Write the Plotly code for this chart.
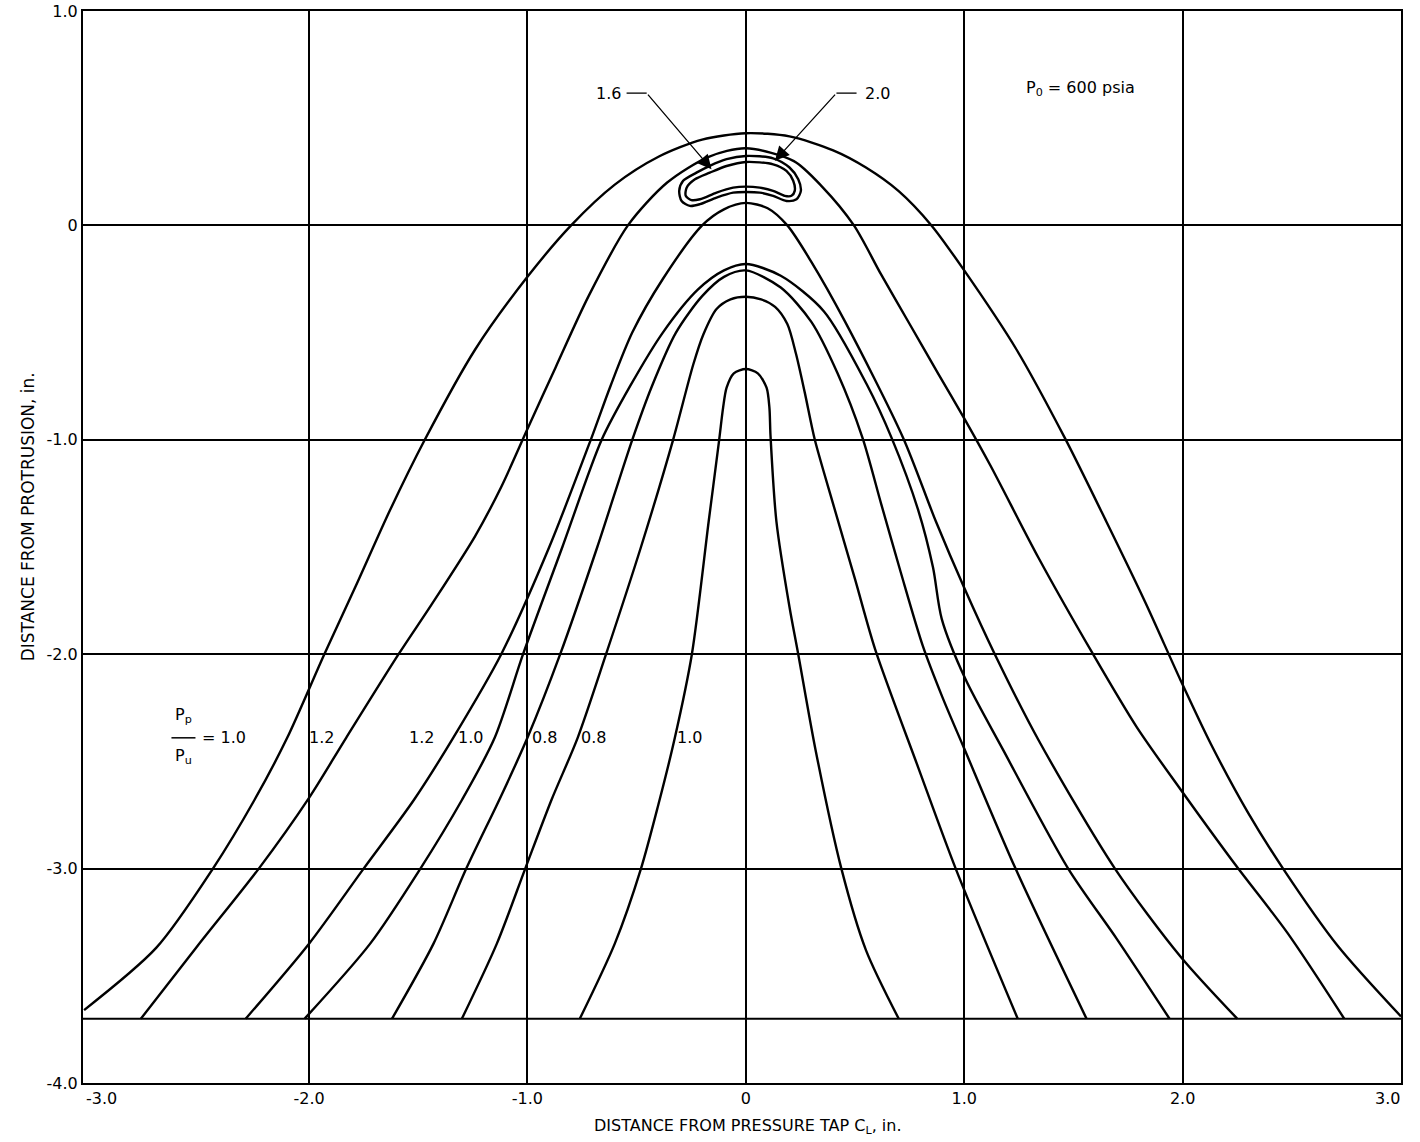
import plotly.graph_objects as go

# ---------------- data ----------------
# contour lines of Pp/Pu, x = distance from pressure tap centreline (in.), y = distance from protrusion (in.)
c1_x = [-3.03, -2.70, -2.44, -2.25, -2.10, -1.93, -1.785, -1.63, -1.47, -1.24, -1.00, -0.80, -0.60, -0.40, -0.20, 0.00,
        0.20, 0.40, 0.55, 0.70, 0.85, 1.00, 1.24, 1.46, 1.65, 1.83, 1.99, 2.13, 2.30, 2.46, 2.71, 3.00]
c1_y = [-3.66, -3.37, -3.00, -2.68, -2.39, -2.00, -1.68, -1.33, -1.00, -0.58, -0.24, 0.00, 0.19, 0.32, 0.40, 0.43,
        0.415, 0.35, 0.27, 0.16, 0.00, -0.21, -0.58, -0.99, -1.38, -1.76, -2.12, -2.42, -2.74, -3.00, -3.36, -3.69]

c2_x = [-2.77, -2.51, -2.23, -2.00, -1.83, -1.59, -1.44, -1.24, -1.12, -1.00, -0.87, -0.72, -0.54, -0.36, -0.17, 0.00,
        0.22, 0.35, 0.495, 0.62, 0.75, 0.88, 1.00, 1.12, 1.34, 1.59, 1.79, 1.99, 2.24, 2.48, 2.74]
c2_y = [-3.70, -3.36, -3.00, -2.67, -2.39, -2.00, -1.77, -1.45, -1.22, -0.95, -0.66, -0.33, 0.00, 0.20, 0.32, 0.36,
        0.30, 0.18, 0.00, -0.23, -0.46, -0.69, -0.90, -1.12, -1.55, -2.00, -2.34, -2.63, -2.98, -3.30, -3.70]

c3_x = [-2.29, -2.00, -1.75, -1.52, -1.34, -1.12, -0.90, -0.71, -0.62, -0.52, -0.38, -0.20, -0.10, 0.00,
        0.10, 0.19, 0.30, 0.455, 0.72, 0.87, 1.00, 1.14, 1.34, 1.69, 1.99, 2.25]
c3_y = [-3.70, -3.35, -3.00, -2.68, -2.39, -2.00, -1.50, -1.00, -0.75, -0.50, -0.25, 0.00, 0.075, 0.105,
        0.08, 0.00, -0.17, -0.45, -0.99, -1.38, -1.69, -2.00, -2.40, -3.00, -3.41, -3.70]

c4_x = [-2.02, -1.72, -1.49, -1.30, -1.15, -1.02, -0.84, -0.66, -0.53, -0.38, -0.22, -0.10, 0.00,
        0.16, 0.357, 0.553, 0.667, 0.79, 0.857, 0.897, 1.005, 1.18, 1.476, 1.70, 1.94]
c4_y = [-3.70, -3.35, -3.00, -2.68, -2.39, -2.00, -1.50, -1.00, -0.75, -0.50, -0.30, -0.21, -0.18,
        -0.235, -0.40, -0.74, -0.99, -1.33, -1.595, -1.835, -2.115, -2.45, -3.00, -3.33, -3.70]

c5_x = [-1.62, -1.43, -1.28, -1.12, -1.00, -0.85, -0.68, -0.52, -0.43, -0.32, -0.20, -0.10, 0.00,
        0.16, 0.30, 0.42, 0.534, 0.62, 0.71, 0.81, 0.90, 1.00, 1.235, 1.56]
c5_y = [-3.70, -3.35, -3.00, -2.66, -2.39, -2.00, -1.50, -1.00, -0.75, -0.50, -0.33, -0.24, -0.21,
        -0.29, -0.45, -0.69, -0.99, -1.30, -1.62, -1.96, -2.20, -2.44, -3.00, -3.70]

c6_x = [-1.30, -1.14, -1.01, -0.89, -0.77, -0.64, -0.48, -0.333, -0.241, -0.195, -0.134, -0.07, 0.00,
        0.07, 0.134, 0.19, 0.23, 0.27, 0.316, 0.40, 0.50, 0.593, 0.79, 0.961, 1.245]
c6_y = [-3.70, -3.35, -3.00, -2.68, -2.39, -2.00, -1.50, -1.00, -0.65, -0.51, -0.39, -0.345, -0.333,
        -0.345, -0.38, -0.46, -0.60, -0.78, -1.00, -1.30, -1.65, -1.98, -2.53, -3.00, -3.70]

c7_x = [-0.76, -0.60, -0.48, -0.40, -0.325, -0.247, -0.17, -0.122, -0.104, -0.088, -0.055, 0.00,
        0.055, 0.095, 0.108, 0.113, 0.14, 0.20, 0.24, 0.32, 0.4375, 0.55, 0.70]
c7_y = [-3.70, -3.35, -3.00, -2.70, -2.39, -2.00, -1.38, -1.00, -0.85, -0.757, -0.69, -0.67,
        -0.69, -0.757, -0.85, -0.98, -1.38, -1.78, -2.00, -2.45, -3.00, -3.38, -3.70]

# closed contours near the protrusion (1.6 and 2.0)
loop16_x = [0.00, 0.125, 0.20, 0.24, 0.252, 0.232, 0.186, 0.125, 0.064, 0.00, -0.058, -0.134, -0.21, -0.256,
            -0.294, -0.305, -0.287, -0.226, -0.165, -0.088, 0.00]
loop16_y = [0.324, 0.313, 0.27, 0.215, 0.161, 0.122, 0.114, 0.138, 0.153, 0.156, 0.153, 0.13, 0.099, 0.091,
            0.114, 0.161, 0.208, 0.246, 0.278, 0.309, 0.324]
loop20_x = [0.00, 0.125, 0.186, 0.217, 0.224, 0.209, 0.178, 0.125, 0.064, 0.00, -0.058, -0.134, -0.21, -0.249,
            -0.275, -0.271, -0.233, -0.165, -0.088, 0.00]
loop20_y = [0.296, 0.285, 0.254, 0.208, 0.161, 0.138, 0.138, 0.161, 0.176, 0.181, 0.176, 0.153, 0.122, 0.118,
            0.138, 0.176, 0.215, 0.246, 0.277, 0.296]

curve_x = [c1_x, c2_x, c3_x, c4_x, c5_x, c6_x, c7_x, loop16_x, loop20_x]
curve_y = [c1_y, c2_y, c3_y, c4_y, c5_y, c6_y, c7_y, loop16_y, loop20_y]

baseline_y = -3.7

# contour value labels along y = -2.39
label_texts = ["1.2", "1.2", "1.0", "0.8", "0.8", "1.0"]
label_x = [-1.945, -1.483, -1.259, -0.924, -0.696, -0.256]
label_y = -2.39

# arrow callouts
callout_text = ["1.6", "2.0"]
callout_tx = [-0.627, 0.604]
callout_ty = 0.617
callout_lx0 = [-0.546, 0.507]
callout_bx = [-0.454, 0.415]
callout_tipx = [-0.157, 0.133]
callout_tipy = [0.262, 0.301]

x_tickvals = [-2, -1, 0, 1, 2]
x_ticktext = ["-2.0", "-1.0", "0", "1.0", "2.0"]
x_edge_text = ["-3.0", "3.0"]
y_tickvals = [1, 0, -1, -2, -3, -4]
y_ticktext = ["1.0", "0", "-1.0", "-2.0", "-3.0", "-4.0"]
x_range = [-3.035, 3.0]
y_range = [-4.0, 1.0]

FONT = "DejaVu Sans"
TXT = dict(family=FONT, size=16, color="black")

fig = go.Figure()
for xs, ys in zip(curve_x, curve_y):
    fig.add_trace(go.Scatter(x=xs, y=ys, mode="lines",
                             line=dict(color="black", width=2.4, shape="spline", smoothing=0.8),
                             hoverinfo="skip", showlegend=False))

# leader horizontal segments
for lx0, bx in zip(callout_lx0, callout_bx):
    fig.add_trace(go.Scatter(x=[lx0, bx], y=[callout_ty, callout_ty], mode="lines",
                             line=dict(color="black", width=1.3), hoverinfo="skip", showlegend=False))

annotations = []
for t, tx, bx, tipx, tipy in zip(callout_text, callout_tx, callout_bx, callout_tipx, callout_tipy):
    annotations.append(dict(x=tx, y=callout_ty, xref="x", yref="y", text=t, showarrow=False,
                            xanchor="center", yanchor="middle", font=TXT))
    annotations.append(dict(x=tipx, y=tipy, xref="x", yref="y", ax=bx, ay=callout_ty, axref="x", ayref="y",
                            text="", showarrow=True, arrowhead=2, arrowsize=2.2, arrowwidth=1.3,
                            arrowcolor="black", standoff=0, startstandoff=0))

for t, lx in zip(label_texts, label_x):
    annotations.append(dict(x=lx, y=label_y, xref="x", yref="y", text=t, showarrow=False,
                            xanchor="center", yanchor="middle", font=TXT))

# Pp/Pu = 1.0 fraction label
annotations.append(dict(x=-2.575, y=-2.285, xref="x", yref="y", text="P<sub>p</sub>", showarrow=False,
                        xanchor="center", yanchor="middle", font=TXT))
annotations.append(dict(x=-2.575, y=-2.475, xref="x", yref="y", text="P<sub>u</sub>", showarrow=False,
                        xanchor="center", yanchor="middle", font=TXT))
annotations.append(dict(x=-2.50, y=label_y, xref="x", yref="y", text="= 1.0", showarrow=False, xanchor="left",
                        yanchor="middle", font=TXT))

# P0 note
annotations.append(dict(x=1.275, y=0.637, xref="x", yref="y", text="P<sub>0</sub> = 600 psia", showarrow=False,
                        xanchor="left", yanchor="middle", font=TXT))

# edge tick labels of x axis, set inside the frame
annotations.append(dict(x=x_range[0], y=0, xref="x", yref="paper", text=x_edge_text[0], showarrow=False,
                        xanchor="left", yanchor="top", xshift=1, yshift=-4, font=TXT))
annotations.append(dict(x=x_range[1], y=0, xref="x", yref="paper", text=x_edge_text[1], showarrow=False,
                        xanchor="right", yanchor="top", xshift=1, yshift=-4, font=TXT))

# axis titles
annotations.append(dict(x=0.504, y=-0.041, xref="paper", yref="paper",
                        text="DISTANCE FROM PRESSURE TAP C<sub>L</sub>, in.", showarrow=False,
                        xanchor="center", yanchor="middle", font=TXT))
annotations.append(dict(x=-0.0415, y=0.528, xref="paper", yref="paper",
                        text="DISTANCE FROM PROTRUSION, in.", showarrow=False, textangle=-90,
                        xanchor="center", yanchor="middle", font=dict(family=FONT, size=17, color="black")))

shapes = [
    dict(type="line", xref="paper", x0=0, x1=1, yref="y", y0=baseline_y, y1=baseline_y,
         line=dict(color="black", width=2)),
    dict(type="line", xref="x", x0=-2.63, x1=-2.52, yref="y", y0=label_y, y1=label_y,
         line=dict(color="black", width=1.5)),
]

fig.update_layout(
    width=1420, height=1142, autosize=False,
    margin=dict(l=83, r=19, t=11, b=59),
    paper_bgcolor="white", plot_bgcolor="white",
    font=TXT,
    annotations=annotations, shapes=shapes,
    xaxis=dict(range=x_range, tickvals=x_tickvals, ticktext=x_ticktext, showgrid=True, gridcolor="black",
               gridwidth=1.5, zeroline=False, showline=True, mirror=True, linecolor="black", linewidth=2,
               ticks="", tickfont=TXT, automargin=False, fixedrange=True),
    yaxis=dict(range=y_range, tickvals=y_tickvals, ticktext=y_ticktext, showgrid=True, gridcolor="black",
               gridwidth=1.5, zeroline=False, showline=True, mirror=True, linecolor="black", linewidth=2,
               ticks="", tickfont=TXT, automargin=False, fixedrange=True),
)

fig.write_html("out.html")
